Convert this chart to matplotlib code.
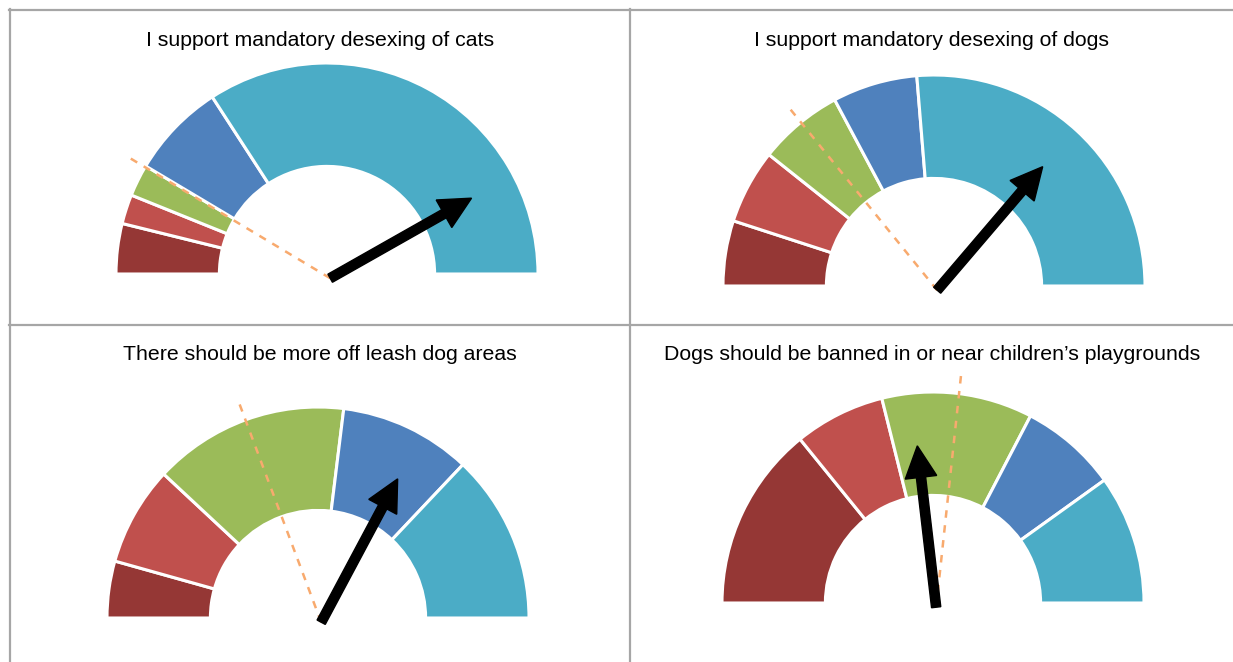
import matplotlib
matplotlib.use('Agg')
import matplotlib.pyplot as plt
import numpy as np
from matplotlib.lines import Line2D

W, H = 1233, 662

titles = ['I support mandatory desexing of cats',
          'I support mandatory desexing of dogs',
          'There should be more off leash dog areas',
          'Dogs should be banned in or near children\u2019s playgrounds']

# share of responses (percent), strongly disagree -> strongly agree
cats = [7.7, 4.5, 4.9, 14.6, 68.3]
dogs = [10.0, 11.4, 13.0, 13.0, 52.6]
off_leash = [8.7, 15.2, 30.0, 20.2, 25.9]
playgrounds = [28.3, 13.9, 23.1, 14.9, 19.8]

# needle (average score) and dashed reference, 0 = left end, 100 = right end
needle = [83.6, 72.5, 65.6, 46.3]
reference = [17.2, 28.3, 38.6, 53.4]

colors = ['#953735', '#C0504D', '#9BBB59', '#4F81BD', '#4BACC6']

# gauge centres and radius in pixels
centres = [(327, 274), (934, 286), (318, 618), (933, 603)]
title_pos = [(320, 41), (932, 40), (320, 354), (932, 355)]
R_PX = 211
BOX = 260

plt.rcParams['font.family'] = ['Liberation Sans', 'DejaVu Sans']
fig = plt.figure(figsize=(W / 100, H / 100), dpi=100)

for i, shares in enumerate([cats, dogs, off_leash, playgrounds]):
    cx, cy = centres[i]
    ax = fig.add_axes([(cx - BOX) / W, 1 - (cy + BOX) / H, 2 * BOX / W, 2 * BOX / H])
    ax.set_axis_off()
    wedges, _ = ax.pie(shares + [sum(shares)], colors=colors + ['none'],
                       startangle=180, counterclock=False, radius=1,
                       wedgeprops=dict(width=0.49, edgecolor='white', linewidth=2.2))
    wedges[-1].set_visible(False)

    lim = BOX / R_PX
    ax.set_xlim(-lim, lim)
    ax.set_ylim(-lim, lim)

    px, py = 0.015, -0.02
    a = np.radians(180 - reference[i] * 1.8)
    ax.plot([px, px + 1.12 * np.cos(a)], [py, py + 1.12 * np.sin(a)],
            color='#F8AA6E', lw=1.8, dashes=(3, 3), zorder=3)

    a = np.radians(180 - needle[i] * 1.8)
    L = 0.77
    ax.arrow(px, py, L * np.cos(a), L * np.sin(a), width=0.044,
             head_width=0.15, head_length=0.15, length_includes_head=True,
             color='black', zorder=4)

    tx, ty = title_pos[i]
    fig.text(tx / W, 1 - ty / H, titles[i], ha='center', va='center', fontsize=15.3)

# table borders
border = '#A6A6A6'
for x in (10, 630):
    fig.add_artist(Line2D([x / W, x / W], [1 - 9 / H, 0], color=border, lw=1.6))
for y in (10, 325):
    fig.add_artist(Line2D([9 / W, 1], [1 - y / H, 1 - y / H], color=border, lw=1.6))

fig.savefig('out.png', dpi=100)
